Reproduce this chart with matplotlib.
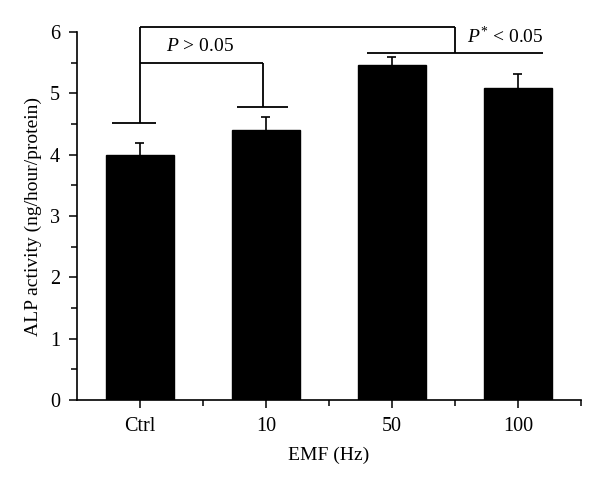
import matplotlib
matplotlib.use("Agg")
import matplotlib.pyplot as plt
from matplotlib.ticker import MultipleLocator, FixedLocator

plt.rcParams['font.family'] = ['Liberation Serif', 'DejaVu Serif']
plt.rcParams['mathtext.fontset'] = 'custom'
plt.rcParams['mathtext.rm'] = 'Liberation Serif'
plt.rcParams['mathtext.it'] = 'Liberation Serif:italic'

categories = ['Ctrl', '10', '50', '100']
values = [4.0, 4.40, 5.47, 5.08]
errors = [0.19, 0.22, 0.13, 0.23]
y_ticks = [0, 1, 2, 3, 4, 5, 6]

fig = plt.figure(figsize=(6, 4.86), dpi=100)
ax = fig.add_axes([0.128, 0.177, 0.840, 0.757])

x = list(range(1, len(categories) + 1))
ax.bar(x, values, width=0.54, color='black', edgecolor='black', zorder=2)
tops = [v + e for v, e in zip(values, errors)]
ax.vlines(x, values, tops, color='black', lw=1.2, zorder=1)
ax.hlines(tops, [xi - 0.035 for xi in x], [xi + 0.035 for xi in x], color='black', lw=1.2, zorder=1)

ax.set_xlim(0.5, 4.5)
ax.set_ylim(0, 6)
ax.set_xticks(x)
ax.set_xticklabels(categories)
ax.xaxis.set_minor_locator(FixedLocator([1.5, 2.5, 3.5, 4.5]))
ax.set_yticks(y_ticks)
ax.yaxis.set_minor_locator(MultipleLocator(0.5))
ax.tick_params(axis='both', which='major', direction='out', length=6, width=1.1, labelsize=14.5, pad=6)
ax.tick_params(axis='both', which='minor', direction='out', length=4, width=1.1)
for s in ['top', 'right']:
    ax.spines[s].set_visible(False)
for s in ['left', 'bottom']:
    ax.spines[s].set_linewidth(1.2)

ax.set_xlabel('EMF (Hz)', fontsize=14, labelpad=8)
ax.set_ylabel('ALP activity (ng/hour/protein)', fontsize=14, labelpad=6)

lw = 1.3
kw = dict(color='black', lw=lw, clip_on=False, solid_capstyle='butt')
# Ctrl bracket base
ax.plot([0.78, 1.13], [4.51, 4.51], **kw)
ax.plot([1.0, 1.0], [4.51, 6.08], **kw)
# Ctrl vs 10
ax.plot([1.0, 1.98], [5.50, 5.50], **kw)
ax.plot([1.98, 1.98], [5.50, 4.78], **kw)
ax.plot([1.77, 2.18], [4.78, 4.78], **kw)
# Ctrl vs 50/100
ax.plot([1.0, 3.5], [6.08, 6.08], **kw)
ax.plot([3.5, 3.5], [6.08, 5.66], **kw)
ax.plot([2.80, 4.20], [5.66, 5.66], **kw)

ax.text(1.21, 5.77, '$P$ > 0.05', fontsize=14, va='center', ha='left')
ax.text(3.60, 5.93, '$P^{*}$ < 0.05', fontsize=14, va='center', ha='left')

fig.savefig('out.png', dpi=100)
